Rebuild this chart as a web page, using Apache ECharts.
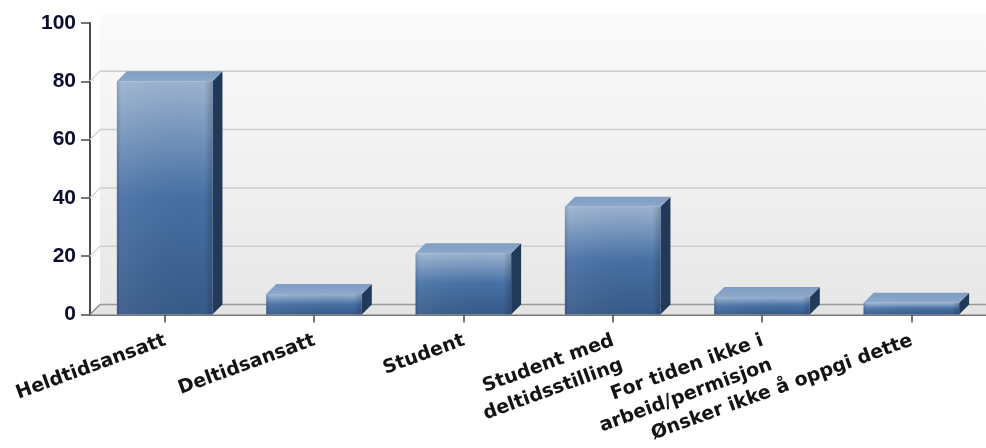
<!DOCTYPE html>
<html><head><meta charset="utf-8">
<script src="https://cdn.jsdelivr.net/npm/echarts@6/dist/echarts.min.js"></script>
<style>html,body{margin:0;padding:0;background:#fff}#c{width:986px;height:448px}</style>
</head><body><div id="c"></div>
<script>
const categories = ['Heldtidsansatt', 'Deltidsansatt', 'Student', 'Student med\ndeltidsstilling', 'For tiden ikke i\narbeid/permisjon', 'Ønsker ikke å oppgi dette'];
const values = [80, 7, 21, 37, 6, 4];
const yTicks = [0, 20, 40, 60, 80, 100];

const DX = 10, DY = 10;
const chart = echarts.init(document.getElementById('c'), null, {renderer: 'canvas'});

function frontFill() {
  return new echarts.graphic.LinearGradient(0, 0, 0, 1, [
    {offset: 0, color: '#9cb3d0'},
    {offset: 0.5, color: '#4670a4'},
    {offset: 1, color: '#375a88'}
  ]);
}
function bevelFill() {
  return new echarts.graphic.LinearGradient(0, 0, 1, 0, [
    {offset: 0, color: 'rgba(40,50,70,0.18)'},
    {offset: 0.06, color: 'rgba(255,255,255,0.06)'},
    {offset: 0.92, color: 'rgba(0,0,0,0)'},
    {offset: 1, color: 'rgba(10,20,40,0.22)'}
  ]);
}

function renderBar(params, api) {
  const idx = api.value(0), v = api.value(1);
  const base = api.coord([idx, 0]);
  const top = api.coord([idx, v]);
  const bw = api.size([1, 0])[0] * 0.64;
  const x0 = base[0] - bw / 2, x1 = base[0] + bw / 2;
  const y0 = base[1], y1 = top[1];
  return {
    type: 'group',
    children: [
      {type: 'polygon', shape: {points: [[x1, y1], [x1 + DX, y1 - DY], [x1 + DX, y0 - DY], [x1, y0]]}, style: {fill: '#223a5a'}},
      {type: 'polygon', shape: {points: [[x0, y1], [x0 + DX, y1 - DY], [x1 + DX, y1 - DY], [x1, y1]]},
        style: {fill: new echarts.graphic.LinearGradient(0, 0, 0, 1, [{offset: 0, color: '#7f9cc2'}, {offset: 1, color: '#8ca8ca'}])}},
      {type: 'rect', shape: {x: x0, y: y1, width: bw, height: y0 - y1}, style: {fill: frontFill()}},
      {type: 'rect', shape: {x: x0, y: y1, width: bw, height: y0 - y1}, style: {fill: bevelFill()}}
    ]
  };
}

function renderFrame(params, api) {
  const v = api.value(1);
  const cs = params.coordSys;
  const p = api.coord([0, v]);
  const x = cs.x, y = p[1];
  const right = cs.x + cs.width + DX;
  const children = [];
  if (v === 0) {
    children.push({type: 'polygon', shape: {points: [[x, y], [x + DX, y - DY], [right, y - DY], [cs.x + cs.width, y]]},
      style: {fill: '#e4e4e4'}});
    children.push({type: 'line', shape: {x1: x + DX, y1: y - DY, x2: right, y2: y - DY}, style: {stroke: '#9a9a9a', lineWidth: 1.5}});
    children.push({type: 'line', shape: {x1: x, y1: y, x2: x + DX, y2: y - DY}, style: {stroke: '#8a8a8a', lineWidth: 1.5}});
  } else if (v < 100) {
    children.push({type: 'line', shape: {x1: x + DX, y1: y - DY, x2: right, y2: y - DY}, style: {stroke: '#cdcdcd', lineWidth: 1.5}});
    children.push({type: 'line', shape: {x1: x, y1: y, x2: x + DX, y2: y - DY}, style: {stroke: '#d6d6d6', lineWidth: 1.5}});
  }
  return {type: 'group', children: children};
}

const xFont = 'DejaVu Sans';
const yFont = 'Liberation Sans';

chart.setOption({
  animation: false,
  backgroundColor: '#ffffff',
  grid: [
    {left: 90, top: 23, width: 900, height: 292, show: false},
    {left: 100, top: 14, width: 900, height: 291, show: true, borderWidth: 0,
      backgroundColor: {type: 'linear', x: 0, y: 0, x2: 0, y2: 1, colorStops: [{offset: 0, color: '#fbfbfb'}, {offset: 1, color: '#e7e7e7'}]}}
  ],
  xAxis: [
    {type: 'category', gridIndex: 0, data: categories,
      axisLine: {show: true, lineStyle: {color: '#4a4a4a', width: 1.5}},
      axisTick: {show: true, alignWithLabel: true, length: 8, lineStyle: {color: '#4a4a4a', width: 1.5}},
      axisLabel: {interval: 0, rotate: 20, margin: 12, verticalAlign: 'top', align: 'right', color: '#141414',
        padding: [0, 4, 0, 0],
        fontFamily: xFont, fontWeight: 'bold', fontSize: 19, lineHeight: 26}},
    {type: 'category', gridIndex: 1, data: categories, show: false}
  ],
  yAxis: [
    {type: 'value', gridIndex: 0, min: 0, max: 100, interval: 20,
      axisLine: {show: true, lineStyle: {color: '#4a4a4a', width: 2}},
      axisTick: {show: true, length: 9, lineStyle: {color: '#4a4a4a', width: 1.5}},
      splitLine: {show: false},
      axisLabel: {margin: 14, color: '#0c0c30', fontFamily: yFont, fontWeight: 'bold', fontSize: 21}},
    {type: 'value', gridIndex: 1, min: 0, max: 100, interval: 20, show: false, splitLine: {show: false}}
  ],
  series: [
    {type: 'custom', xAxisIndex: 0, yAxisIndex: 0, z: 1, renderItem: renderFrame,
      data: yTicks.map(v => [0, v])},
    {type: 'custom', xAxisIndex: 0, yAxisIndex: 0, z: 3, renderItem: renderBar,
      data: values.map((v, i) => [i, v])}
  ]
});
</script>
</body></html>
